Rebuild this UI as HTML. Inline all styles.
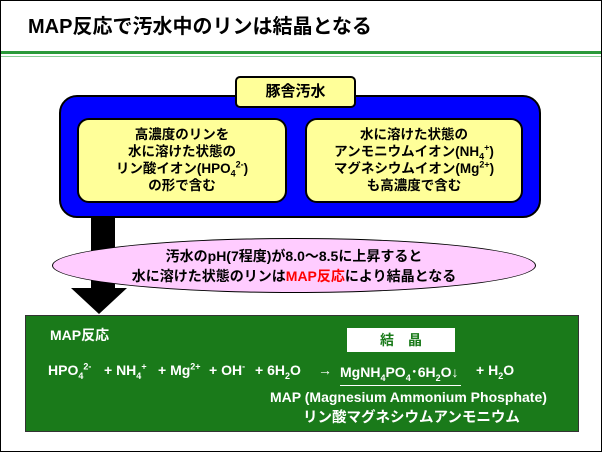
<!DOCTYPE html>
<html><head><meta charset="utf-8"><style>
body{margin:0;width:602px;height:452px;overflow:hidden;background:#fff;font-family:"Liberation Sans","Noto Sans CJK JP",sans-serif;font-weight:bold}
#f{position:absolute;left:0;top:0;width:600px;height:450px;border:1px solid #000}
.a{position:absolute}
.c{text-align:center}
sub,sup{font-size:9px;line-height:0}
.e{position:absolute;top:362px;font-size:14px;color:#fff;white-space:nowrap}
</style></head><body>
<div id="f"></div>
<div class="a" style="left:28px;top:10px;font-size:20px;color:#000">MAP反応で汚水中のリンは結晶となる</div>
<div class="a" style="left:1px;top:51px;width:600px;height:3px;background:#2a9a3a"></div>
<div class="a" style="left:1px;top:56px;width:600px;height:1px;background:#8ccf98"></div>

<div class="a" style="left:59px;top:95px;width:478px;height:119px;background:#0000ff;border:2px solid #000;border-radius:18px"></div>
<div class="a c" style="left:235px;top:76px;width:117px;height:28px;background:#ffff99;border:2px solid #000;border-radius:5px;font-size:15px;line-height:28px">豚舎汚水</div>
<div class="a c" style="left:77px;top:118px;width:210px;height:85px;background:#ffff99;border:2px solid #000;border-radius:12px;font-size:13.5px;line-height:17px;box-sizing:border-box;padding-top:6px">高濃度のリンを<br>水に溶けた状態の<br>リン酸イオン(HPO<sub>4</sub><sup>2-</sup>)<br>の形で含む</div>
<div class="a c" style="left:305px;top:118px;width:218px;height:85px;background:#ffff99;border:2px solid #000;border-radius:12px;font-size:13.5px;line-height:17px;box-sizing:border-box;padding-top:6px">水に溶けた状態の<br>アンモニウムイオン(NH<sub>4</sub><sup>+</sup>)<br>マグネシウムイオン(Mg<sup>2+</sup>)<br>も高濃度で含む</div>

<div class="a" style="left:91px;top:216px;width:24px;height:74px;background:#000"></div>
<div class="a" style="left:71px;top:288px;width:0;height:0;border-left:28px solid transparent;border-right:28px solid transparent;border-top:26px solid #000"></div>

<div class="a c" style="left:52px;top:238px;width:484px;height:55px;background:#ffccff;border:1px solid #000;border-radius:50%;font-size:14px;line-height:20px;box-sizing:border-box;padding-top:7px">汚水のpH(7程度)が8.0～8.5に上昇すると<br>水に溶けた状態のリンは<span style="color:#ff0000">MAP反応</span>により結晶となる</div>

<div class="a" style="left:25px;top:315px;width:554px;height:117px;background:#1a7a1a;border:1px solid #333;box-sizing:border-box"></div>
<div class="a" style="left:50px;top:325px;font-size:14px;color:#fff">MAP反応</div>
<div class="a c" style="left:347px;top:328px;width:108px;height:24px;background:#fff;color:#1a7a1a;font-size:14px;line-height:24px">結　晶</div>
<div class="e" style="left:48px">HPO<sub>4</sub><sup>2-</sup></div>
<div class="e" style="left:104px">+ NH<sub>4</sub><sup>+</sup></div>
<div class="e" style="left:158px">+ Mg<sup>2+</sup></div>
<div class="e" style="left:209px">+ OH<sup>-</sup></div>
<div class="e" style="left:255px">+ 6H<sub>2</sub>O</div>
<div class="e" style="left:318px">→</div>
<div class="e" style="left:340px">MgNH<sub>4</sub>PO<sub>4</sub>･6H<sub>2</sub>O↓</div>
<div class="e" style="left:476px">+ H<sub>2</sub>O</div>
<div class="a" style="left:340px;top:385px;width:121px;height:1px;background:#fff"></div>
<div class="a" style="left:270px;top:389px;font-size:14px;color:#fff">MAP (Magnesium Ammonium Phosphate)</div>
<div class="a" style="left:303px;top:406px;font-size:14.5px;color:#fff">リン酸マグネシウムアンモニウム</div>
</body></html>
